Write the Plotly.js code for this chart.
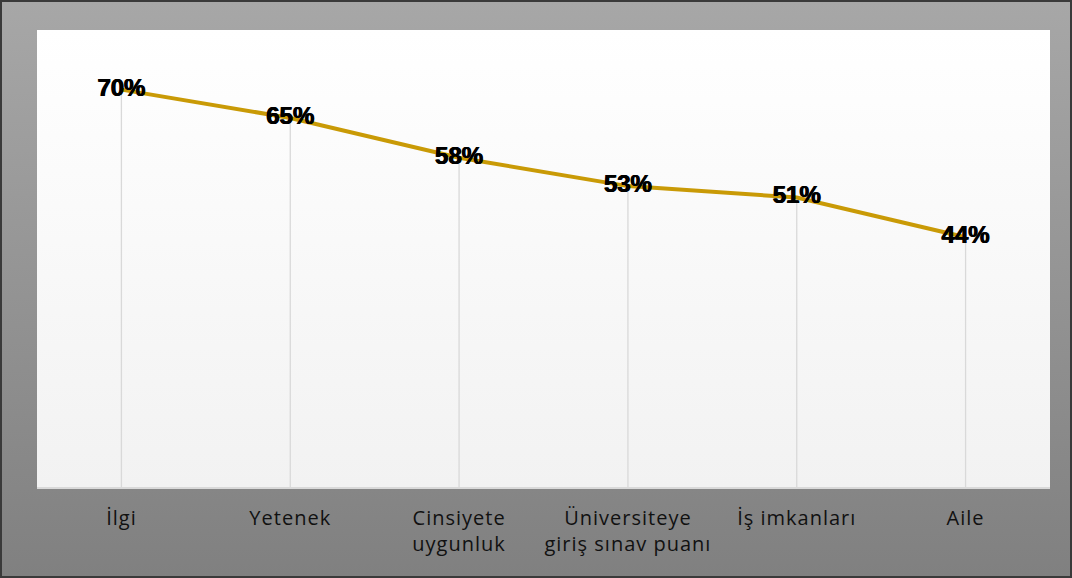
<!DOCTYPE html>
<html>
<head>
<meta charset="utf-8">
<script src="https://cdn.plot.ly/plotly-3.0.1.min.js"></script>
<style>
html,body{margin:0;padding:0;}
#wrap{position:relative;width:1072px;height:578px;box-sizing:border-box;border:2px solid #3a3a3a;background:linear-gradient(to bottom,#a7a7a7 0%,#808080 100%);overflow:hidden;}
#chart{position:absolute;left:-2px;top:-2px;width:1072px;height:578px;}
#chart .xtick text{letter-spacing:1px;}
</style>
</head>
<body>
<div id="wrap"><div id="chart"></div></div>
<script>
var categories = ["İlgi", "Yetenek", "Cinsiyete<br>uygunluk", "Üniversiteye<br>giriş sınav puanı", "İş imkanları", "Aile"];
var values = [70, 65, 58, 53, 51, 44];
var labels = ["70%", "65%", "58%", "53%", "51%", "44%"];
var zeros = [0, 0, 0, 0, 0, 0];

var gradSvg = '<svg xmlns="http://www.w3.org/2000/svg" width="10" height="100" preserveAspectRatio="none"><defs><linearGradient id="g" x1="0" y1="0" x2="0" y2="1"><stop offset="0" stop-color="#ffffff"/><stop offset="1" stop-color="#f2f2f2"/></linearGradient></defs><rect width="10" height="100" fill="url(#g)"/></svg>';
var gradUri = 'data:image/svg+xml;base64,' + btoa(gradSvg);

var dropTrace = {
  x: categories,
  y: values,
  type: 'scatter',
  mode: 'none',
  hoverinfo: 'skip',
  showlegend: false,
  error_y: {type: 'data', symmetric: false, array: zeros, arrayminus: values, width: 0, thickness: 1.3, color: '#d9d9d9'}
};
var lineTrace = {
  x: categories,
  y: values,
  type: 'scatter',
  mode: 'lines+text',
  text: labels,
  textposition: 'middle center',
  textfont: {family: 'Liberation Sans, Arial, sans-serif', size: 24, weight: 'bold', color: '#000000', shadow: '0.5px 0 0 #000, -0.5px 0 0 #000'},
  line: {color: '#c99a06', width: 4},
  showlegend: false,
  cliponaxis: false
};

var layout = {
  width: 1072, height: 578,
  margin: {l: 37, r: 22, t: 30, b: 91},
  paper_bgcolor: 'rgba(0,0,0,0)',
  plot_bgcolor: 'rgba(0,0,0,0)',
  showlegend: false,
  images: [{source: gradUri, xref: 'paper', yref: 'paper', x: 0, y: 1, sizex: 1, sizey: 1, sizing: 'stretch', xanchor: 'left', yanchor: 'top', layer: 'below'}],
  xaxis: {
    type: 'category',
    showgrid: false,
    zeroline: false,
    showline: true, linecolor: '#d9d9d9', linewidth: 1.5,
    ticks: '',
    ticklabelstandoff: 12,
    tickfont: {family: 'Open Sans, sans-serif', size: 20, color: '#111111'},
    range: [-0.5, 5.5]
  },
  yaxis: {
    range: [0, 80.5],
    showgrid: false,
    zeroline: false,
    showticklabels: false,
    ticks: '',
    showline: false
  }
};

Plotly.newPlot('chart', [dropTrace, lineTrace], layout, {displayModeBar: false, staticPlot: true});
</script>
</body>
</html>
